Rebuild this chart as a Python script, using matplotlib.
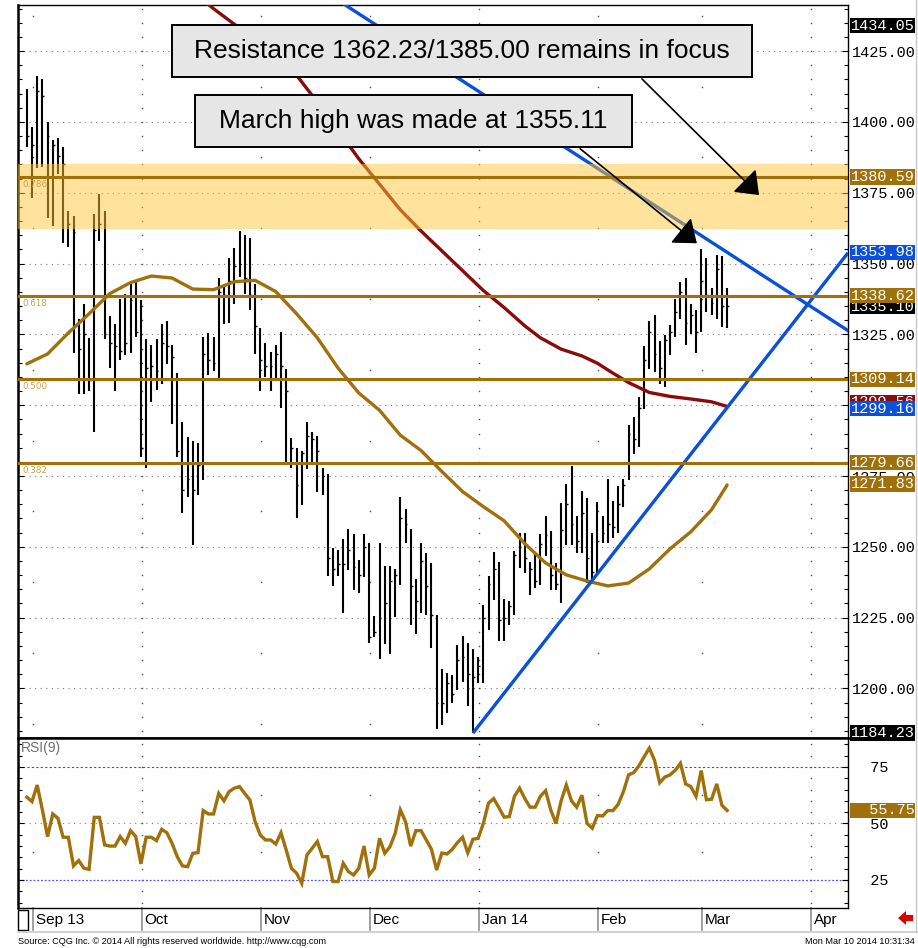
import numpy as np
import matplotlib
matplotlib.use("Agg")
import matplotlib.pyplot as plt
import matplotlib.transforms as mtransforms
from matplotlib.patches import Rectangle, Polygon, FancyArrowPatch
from matplotlib.lines import Line2D

# ---------------- data (daily bars, Aug 30 2013 .. Mar 10 2014) ----------------
highs = [1411.6, 1398.3, 1416.3, 1415.1, 1400.0, 1393.6, 1394.4, 1391.1, 1368.6, 1366.7,
         1330.6, 1335.9, 1323.8, 1367.5, 1374.6, 1368.6, 1331.6, 1328.8, 1337.4, 1339.1,
         1343.8, 1343.8, 1337.1, 1323.3, 1321.2, 1323.3, 1328.5, 1329.7, 1321.2, 1311.5,
         1293.9, 1288.7, 1287.5, 1286.6, 1324.1, 1325.5, 1324.1, 1344.8, 1341.8, 1351.9,
         1355.4, 1361.6, 1360.2, 1359.2, 1342.7, 1327.1, 1322.1, 1318.8, 1321.4, 1325.7,
         1312.7, 1288.3, 1284.8, 1283.9, 1294.0, 1290.7, 1289.2, 1278.0, 1275.6, 1249.6,
         1249.0, 1252.8, 1256.4, 1254.4, 1245.3, 1254.4, 1251.2, 1225.6, 1251.2, 1243.2,
         1243.2, 1242.0, 1267.7, 1263.5, 1256.4, 1238.7, 1251.4, 1247.9, 1244.3, 1226.0,
         1206.7, 1205.6, 1204.7, 1215.4, 1218.5, 1216.0, 1213.8, 1211.2, 1229.5, 1239.6,
         1248.1, 1244.6, 1231.6, 1230.7, 1248.5, 1255.0, 1255.0, 1244.6, 1247.9, 1254.4,
         1260.9, 1255.6, 1244.3, 1265.3, 1272.3, 1278.4, 1260.9, 1269.7, 1267.4, 1255.0,
         1266.0, 1260.9, 1274.1, 1266.2, 1271.6, 1274.1, 1293.0, 1295.7, 1302.8, 1320.9,
         1329.6, 1331.7, 1322.5, 1324.7, 1328.3, 1337.4, 1343.6, 1345.0, 1335.6, 1333.6,
         1355.11, 1352.1, 1341.5, 1353.1, 1352.8, 1341.5]
lows = [1391.1, 1373.2, 1383.8, 1384.0, 1366.1, 1363.1, 1381.5, 1357.2, 1356.0, 1318.4,
        1304.0, 1303.8, 1305.0, 1290.4, 1357.8, 1323.5, 1313.1, 1305.0, 1316.0, 1317.6,
        1318.4, 1324.1, 1281.7, 1278.0, 1301.1, 1305.2, 1307.6, 1314.6, 1293.4, 1281.6,
        1261.8, 1267.7, 1250.8, 1268.2, 1273.7, 1310.5, 1312.0, 1309.3, 1328.5, 1329.2,
        1335.6, 1345.4, 1339.1, 1333.6, 1318.2, 1305.0, 1309.9, 1305.0, 1309.3, 1298.9,
        1279.2, 1278.0, 1260.3, 1264.6, 1277.4, 1279.5, 1269.4, 1268.2, 1239.6, 1236.1,
        1239.8, 1226.6, 1241.7, 1234.9, 1233.7, 1239.4, 1216.2, 1218.3, 1210.3, 1215.7,
        1212.2, 1225.2, 1236.6, 1251.4, 1222.4, 1219.3, 1226.8, 1226.0, 1214.2, 1185.8,
        1187.0, 1191.4, 1194.9, 1199.4, 1202.4, 1193.7, 1184.23, 1201.8, 1201.8, 1220.7,
        1231.3, 1216.8, 1216.8, 1222.4, 1226.0, 1242.6, 1240.8, 1233.1, 1235.5, 1236.6,
        1246.7, 1234.6, 1234.6, 1230.1, 1250.8, 1250.8, 1247.9, 1247.9, 1237.2, 1237.2,
        1240.8, 1251.4, 1251.4, 1253.2, 1255.0, 1264.2, 1273.7, 1282.7, 1285.1, 1298.7,
        1312.9, 1311.7, 1307.6, 1306.4, 1317.6, 1324.1, 1330.4, 1321.4, 1325.2, 1318.5,
        1325.7, 1333.0, 1331.8, 1330.4, 1327.7, 1327.1]
closes = [1395, 1392, 1411, 1409, 1395, 1392, 1388, 1385, 1364, 1361,
          1320, 1325, 1309, 1362, 1364, 1325, 1322, 1321, 1319, 1322,
          1337, 1326, 1285, 1313, 1314, 1312, 1322, 1321, 1317, 1284,
          1270, 1274, 1270, 1279, 1318, 1316, 1315, 1340, 1339, 1344,
          1349, 1350, 1345, 1339, 1328, 1316, 1314, 1314, 1318, 1314,
          1305, 1285, 1272, 1283, 1289, 1288, 1284, 1275, 1246, 1242,
          1244, 1244, 1249, 1243, 1240, 1250, 1218, 1220, 1225, 1230,
          1238, 1240, 1260, 1258, 1236, 1231, 1245, 1236, 1226, 1195,
          1195, 1202, 1198, 1210, 1211, 1205, 1204, 1208, 1225, 1237,
          1242, 1224, 1225, 1229, 1247, 1250, 1246, 1242, 1238, 1251,
          1254, 1240, 1237, 1256, 1265, 1258, 1252, 1262, 1246, 1241,
          1252, 1255, 1258, 1257, 1265, 1272, 1290, 1288, 1299, 1316,
          1326, 1318, 1313, 1323, 1326, 1333, 1340, 1329, 1332, 1326,
          1344, 1339, 1336, 1348, 1335, 1335.10]
rsi9 = [61.6, 59.7, 67.0, 56.0, 44.2, 54.2, 52.3, 43.9, 43.9, 31.2,
        33.6, 30.2, 29.7, 52.7, 52.7, 40.5, 40.0, 40.0, 44.2, 41.2,
        46.8, 44.2, 32.1, 43.9, 43.9, 42.4, 47.4, 45.9, 41.2, 35.3,
        31.2, 30.9, 36.8, 37.1, 55.7, 54.2, 54.2, 63.3, 60.0, 64.1,
        65.6, 66.3, 63.3, 60.4, 50.8, 44.9, 42.7, 42.7, 40.9, 45.9,
        38.3, 30.2, 28.0, 23.5, 36.1, 39.0, 42.0, 35.3, 35.3, 24.3,
        24.3, 32.4, 28.7, 27.2, 30.2, 40.0, 27.2, 30.2, 43.4, 36.8,
        39.7, 45.6, 56.0, 50.8, 40.0, 46.8, 46.8, 42.7, 38.6, 29.4,
        36.9, 36.5, 38.5, 41.5, 43.9, 37.0, 43.0, 43.4, 50.0, 59.0,
        61.0, 57.0, 52.8, 53.0, 62.0, 65.6, 61.0, 57.2, 57.2, 62.0,
        64.5, 56.0, 50.0, 60.0, 67.0, 60.0, 57.2, 62.5, 50.0, 47.9,
        53.5, 53.3, 55.7, 55.7, 58.5, 64.0, 71.5, 72.5, 75.5, 79.5,
        83.3, 78.0, 68.0, 70.5, 71.5, 73.5, 76.6, 67.5, 66.3, 62.0,
        73.4, 60.5, 60.7, 67.5, 58.0, 55.75]

# moving averages sampled every few bars
ma_gold_idx = [0, 4, 8, 12, 16, 20, 24, 28, 32, 36, 40, 44, 48, 52, 56, 60, 64, 68,
               72, 76, 80, 84, 88, 92, 96, 100, 104, 108, 112, 116, 120, 124, 128, 132, 135]
ma_gold = [1314.6, 1318.1, 1325.5, 1332.3, 1339.4, 1343.3, 1345.6, 1344.9, 1341.0, 1340.8,
           1343.6, 1344.1, 1340.1, 1332.3, 1323.8, 1313.1, 1304.3, 1298.2, 1289.4, 1284.0,
           1276.6, 1269.5, 1264.2, 1259.2, 1251.1, 1244.3, 1240.1, 1237.9, 1236.2, 1237.2,
           1242.2, 1249.3, 1255.3, 1263.1, 1271.83]
ma_red_idx = [32, 36, 40, 44, 48, 52, 56, 60, 64, 68, 72, 76, 80, 84, 88, 92, 96, 99,
              103, 107, 110, 113, 116, 120, 124, 128, 132, 135]
ma_red = [1446.0, 1440.0, 1434.5, 1429.5, 1423.5, 1416.5, 1407.0, 1397.0, 1387.0, 1378.0,
          1369.0, 1361.5, 1354.5, 1347.5, 1340.5, 1334.5, 1328.0, 1323.8, 1319.8, 1317.4,
          1314.8, 1311.3, 1308.0, 1304.5, 1303.1, 1302.2, 1301.2, 1299.56]

up_trend_idx = [86, 135]
up_trend_val = [1184.23, 1299.16]
down_trend_idx = [35, 135]
down_trend_val = [1472.6, 1353.98]

fib_levels = [1380.59, 1338.62, 1309.14, 1279.66]
fib_names = ["0.786", "0.618", "0.500", "0.382"]
zone = (1362.23, 1385.00)

month_names = ["Sep 13", "Oct", "Nov", "Dec", "Jan 14", "Feb", "Mar", "Apr"]
month_first_bar = [1, 22, 45, 66, 87, 110, 130, 151]
quarter_start = [False, True, False, False, True, False, False, True]

# ---------------- colours ----------------
GOLD = "#A0700A"
DRED = "#8B0A0A"
BLUE = "#0A50DC"
GRID = "#7a7a7a"

W, H = 918, 948
fig = plt.figure(figsize=(W / 100, H / 100), dpi=100)


def fx(px):
    return px / W


def fy(py):
    return 1 - py / H


ax = fig.add_axes([fx(18), fy(738), fx(848) - fx(18), fy(5) - fy(738)])
rax = fig.add_axes([fx(18), fy(908), fx(848) - fx(18), fy(738) - fy(908)])

idx = np.arange(len(highs))
xlim = (-1.7, 158.3)

# ---------------- price panel ----------------
ax.set_xlim(*xlim)
ax.set_ylim(1182.5, 1441.3)

for lvl in np.arange(1200, 1426, 25):
    ax.axhline(lvl, color=GRID, lw=0.8, ls=(0, (1, 4)), zorder=0.5)
ticks_x = np.array(month_first_bar) + 0.2
for t, q in zip(ticks_x, quarter_start):
    lv = np.arange(1185, 1441, 5) if q else np.arange(1187.5, 1441, 25)
    ax.plot(np.full(len(lv), t), lv, ls="none", marker="s", ms=1.0, mew=0, color="#505050", zorder=0.5)

ax.vlines(idx, lows, highs, color="black", lw=1.5, zorder=2)
ax.hlines(closes, idx, idx + 0.35, color="black", lw=1.0, zorder=2)

ax.plot(ma_gold_idx, ma_gold, color=GOLD, lw=2.4, zorder=2.6, solid_capstyle="round")
ax.plot(ma_red_idx, ma_red, color=DRED, lw=2.4, zorder=2.6, solid_capstyle="round")

slope_up = (up_trend_val[1] - up_trend_val[0]) / (up_trend_idx[1] - up_trend_idx[0])
ax.plot([up_trend_idx[0], xlim[1]],
        [up_trend_val[0], up_trend_val[0] + slope_up * (xlim[1] - up_trend_idx[0])],
        color=BLUE, lw=2.4, zorder=3, solid_capstyle="butt")
ax.axline((down_trend_idx[0], down_trend_val[0]), (down_trend_idx[1], down_trend_val[1]),
          color=BLUE, lw=2.4, zorder=3)

ax.axhspan(zone[0], zone[1], color=(1.0, 0.78, 0.22), alpha=0.5, lw=0, zorder=3.5)

for lvl, name in zip(fib_levels, fib_names):
    ax.axhline(lvl, color=GOLD, lw=2.2, zorder=4)
    ax.annotate(name, xy=(0, lvl), xycoords=mtransforms.blended_transform_factory(ax.transAxes, ax.transData),
                xytext=(4, -3), textcoords="offset pixels", ha="left", va="top",
                fontsize=6.3, color="#C9A050", zorder=4)

# axis styling
ax.yaxis.tick_right()
ax.set_yticks(np.arange(1200, 1426, 25))
ax.set_yticklabels(["%.2f" % v for v in np.arange(1200, 1426, 25)])
ax.set_yticks(np.arange(1185, 1441, 5), minor=True)
ax.tick_params(axis="y", which="major", direction="in", length=4, width=0.8, pad=3,
               labelsize=11, labelfontfamily="Liberation Mono", left=True, right=True)
ax.tick_params(axis="y", which="minor", direction="in", length=3, width=0.8, left=True, right=True)
ax.set_xticks([])
for s in ax.spines.values():
    s.set_linewidth(1.0)
ax.spines["left"].set_linewidth(1.8)
ax.spines["bottom"].set_linewidth(1.8)

lbl_tr = mtransforms.blended_transform_factory(ax.transAxes, ax.transData)


def tag(axis, tr, value, text, fc, dy=0):
    axis.annotate(text, xy=(1, value), xycoords=tr, xytext=(3, dy), textcoords="offset pixels",
                  ha="left", va="center", fontsize=11, family="Liberation Mono", color="white",
                  bbox=dict(boxstyle="square,pad=0.04", fc=fc, ec="none"),
                  annotation_clip=False, zorder=6)


tag(ax, lbl_tr, 1434.05, "1434.05", "black")
tag(ax, lbl_tr, 1380.59, "1380.59", GOLD)
tag(ax, lbl_tr, 1353.98, "1353.98", BLUE)
tag(ax, lbl_tr, closes[-1], "%.2f" % closes[-1], "black", dy=-1)
tag(ax, lbl_tr, 1338.62, "1338.62", GOLD)
tag(ax, lbl_tr, 1309.14, "1309.14", GOLD)
tag(ax, lbl_tr, ma_red[-1], "%.2f" % ma_red[-1], DRED, dy=4)
tag(ax, lbl_tr, up_trend_val[1], "%.2f" % up_trend_val[1], BLUE, dy=-1)
tag(ax, lbl_tr, 1279.66, "1279.66", GOLD)
tag(ax, lbl_tr, ma_gold[-1], "%.2f" % ma_gold[-1], GOLD, dy=1)
tag(ax, lbl_tr, 1184.23, "1184.23", "black")

# ---------------- RSI panel ----------------
rax.set_xlim(*xlim)
rax.set_ylim(12.6, 87.8)
rax.axhline(75, color="#E02020", lw=0.8, ls=(0, (2, 2)), zorder=1)
rax.axhline(25, color="#5050FF", lw=0.9, ls=(0, (1.5, 1.5)), zorder=1)
rax.axhline(50, color=GRID, lw=0.8, ls=(0, (1, 4)), zorder=1)
for t, q in zip(ticks_x, quarter_start):
    lv = np.arange(15, 88, 5) if q else np.array([37.5, 62.5])
    rax.plot(np.full(len(lv), t), lv, ls="none", marker="s", ms=1.0, mew=0, color="#505050", zorder=0.5)
rax.plot(idx, rsi9, color=GOLD, lw=2.4, zorder=3, solid_joinstyle="miter")
rax.text(0.003, 0.985, "RSI(9)", transform=rax.transAxes, ha="left", va="top",
         fontsize=10, color="#707070", family="Liberation Sans")

rax.yaxis.tick_right()
rax.set_yticks([25, 50, 75])
rax.set_yticklabels(["  25", "  50", "  75"])
rax.set_yticks(np.arange(15, 88, 5), minor=True)
rax.tick_params(axis="y", which="major", direction="in", length=4, width=0.8, pad=3,
                labelsize=11, labelfontfamily="Liberation Mono", left=True, right=True)
rax.tick_params(axis="y", which="minor", direction="in", length=3, width=0.8, left=True, right=True)
rax.set_xticks([])
for s in rax.spines.values():
    s.set_linewidth(1.0)
rax.spines["left"].set_linewidth(1.8)
rax.spines["top"].set_linewidth(1.8)
rax.spines["bottom"].set_linewidth(1.0)

rsi_tr = mtransforms.blended_transform_factory(rax.transAxes, rax.transData)
tag(rax, rsi_tr, rsi9[-1], "  %.2f" % rsi9[-1], GOLD)

# month labels under RSI panel
mtr = mtransforms.blended_transform_factory(rax.transData, rax.transAxes)
for t, name in zip(ticks_x, month_names):
    rax.add_line(Line2D([t, t], [0, -0.13], transform=mtr, color="#909090", lw=1.2, clip_on=False))
    rax.text(t + 0.5, -0.07, name, transform=mtr, ha="left", va="center", fontsize=11,
             family="Liberation Sans", clip_on=False)

# ---------------- figure decorations ----------------
fig.add_artist(Rectangle((fx(18), fy(930)), fx(28) - fx(18), fy(910) - fy(930),
                         transform=fig.transFigure, fc="white", ec="black", lw=1.0))
fig.add_artist(Line2D([fx(18), fx(917)], [fy(931.5), fy(931.5)], transform=fig.transFigure,
                      color="#c8c8c8", lw=1.2))
fig.add_artist(Line2D([fx(916), fx(916)], [fy(0), fy(931.5)], transform=fig.transFigure,
                      color="#c8c8c8", lw=1.0))
fig.add_artist(Polygon([(fx(898), fy(918)), (fx(906), fy(911)), (fx(906), fy(915)),
                        (fx(913), fy(915)), (fx(913), fy(921)), (fx(906), fy(921)),
                        (fx(906), fy(925))], closed=True, transform=fig.transFigure,
                       fc="#E00000", ec="none"))
fig.text(fx(18), fy(941), "Source: CQG Inc. \u00a9 2014 All rights reserved worldwide. http://www.cqg.com",
         ha="left", va="center", fontsize=6.6, family="Liberation Sans")
fig.text(fx(915), fy(941), "Mon Mar 10 2014 10:31:34", ha="right", va="center",
         fontsize=6.6, family="Liberation Sans")

# annotation boxes
boxes = [((172, 25, 752, 77), "Resistance 1362.23/1385.00 remains in focus"),
         ((195, 95, 632, 147), "March high was made at 1355.11")]
for (x0, y0, x1, y1), txt in boxes:
    fig.add_artist(Rectangle((fx(x0), fy(y1)), fx(x1) - fx(x0), fy(y0) - fy(y1),
                             transform=fig.transFigure, fc="#E6E6E6", ec="black", lw=1.4, zorder=10))
    fig.text((fx(x0) + fx(x1)) / 2, (fy(y0) + fy(y1)) / 2, txt, ha="center", va="center",
             fontsize=19, family="Liberation Sans", zorder=11)

arrows = [((640, 77), (761, 197)), ((578, 147), (699, 245))]
for (sx, sy), (ex, ey) in arrows:
    fig.add_artist(FancyArrowPatch((fx(sx), fy(sy)), (fx(ex), fy(ey)), transform=fig.transFigure,
                                   arrowstyle="-|>,head_length=1.1,head_width=0.85", mutation_scale=12,
                                   color="black", lw=1.2, zorder=12))

fig.savefig("out.png", dpi=100, facecolor="white")
